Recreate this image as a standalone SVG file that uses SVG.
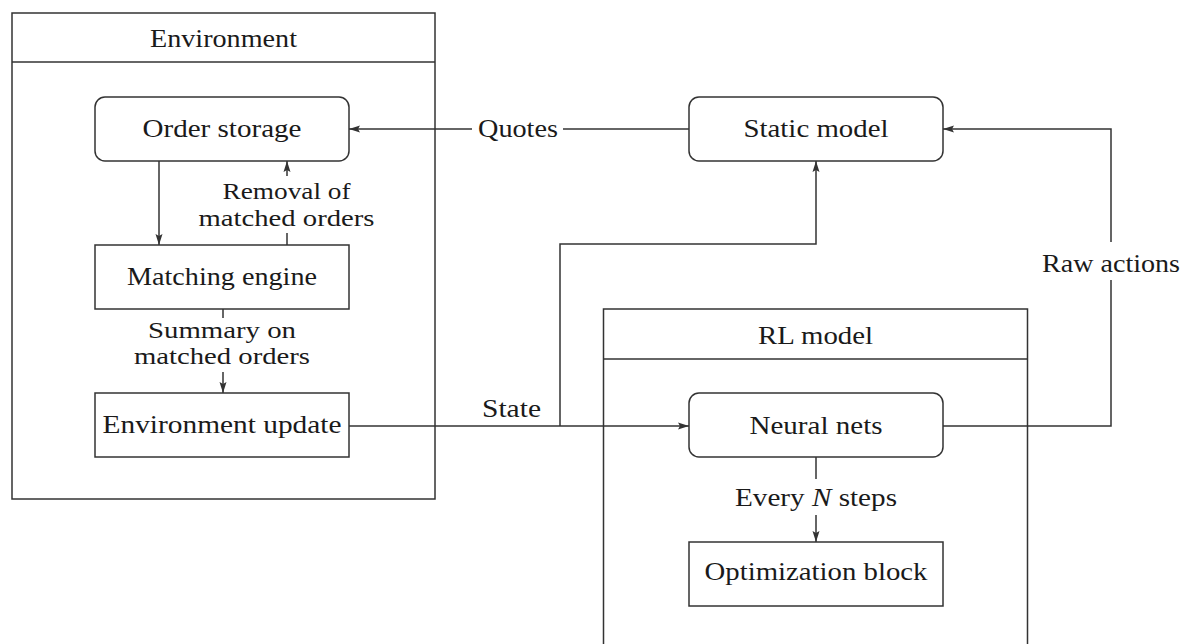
<svg xmlns="http://www.w3.org/2000/svg" width="1184" height="644" viewBox="0 0 1184 644">
<style>
.box{fill:none;stroke:#333;stroke-width:1.5}
.ln{fill:none;stroke:#333;stroke-width:1.5}
.t{font-family:'Liberation Serif','DejaVu Serif','Noto Serif',serif;font-size:26px;fill:#1a1a1a;text-anchor:middle}
.s{font-size:24px}
</style>
<defs>
<marker id="ah" markerWidth="12" markerHeight="8" refX="11" refY="4" orient="auto" markerUnits="userSpaceOnUse">
<path d="M0,0.5 L11,4 L0,7.5 L2,4 Z" fill="#333"/>
</marker>
</defs>
<rect width="1184" height="644" fill="#fff"/>

<g id="environment">
<rect class="box" x="12" y="13" width="423" height="486"/>
<line class="ln" x1="12" y1="62" x2="435" y2="62"/>
<text class="t" x="223.5" y="47" textLength="147" lengthAdjust="spacingAndGlyphs">Environment</text>
</g>

<g id="rl-model">
<path class="box" d="M603.5,660 V309 H1027.5 V660"/>
<line class="ln" x1="603.5" y1="359" x2="1027.5" y2="359"/>
<text class="t" x="815.5" y="344" textLength="115" lengthAdjust="spacingAndGlyphs">RL model</text>
</g>

<g id="order-storage">
<rect class="box" x="95" y="97" width="254" height="64" rx="10"/>
<text class="t" x="222" y="137" textLength="159" lengthAdjust="spacingAndGlyphs">Order storage</text>
</g>

<g id="matching-engine">
<rect class="box" x="95" y="245" width="254" height="64"/>
<text class="t" x="222" y="285" textLength="190" lengthAdjust="spacingAndGlyphs">Matching engine</text>
</g>

<g id="environment-update">
<rect class="box" x="95" y="393" width="254" height="64"/>
<text class="t" x="222" y="433" textLength="239" lengthAdjust="spacingAndGlyphs">Environment update</text>
</g>

<g id="static-model">
<rect class="box" x="689" y="97" width="254" height="64" rx="10"/>
<text class="t" x="816" y="137" textLength="145" lengthAdjust="spacingAndGlyphs">Static model</text>
</g>

<g id="neural-nets">
<rect class="box" x="689" y="393" width="254" height="64" rx="10"/>
<text class="t" x="816" y="434" textLength="133" lengthAdjust="spacingAndGlyphs">Neural nets</text>
</g>

<g id="optimization-block">
<rect class="box" x="689" y="542" width="254" height="64"/>
<text class="t" x="816" y="580" textLength="223" lengthAdjust="spacingAndGlyphs">Optimization block</text>
</g>

<g id="connectors">
<path class="ln" d="M689,129 H563"/>
<path class="ln" d="M472,129 H349" marker-end="url(#ah)"/>
<text class="t" x="518" y="137" textLength="80" lengthAdjust="spacingAndGlyphs">Quotes</text>

<path class="ln" d="M159,161 V245" marker-end="url(#ah)"/>

<path class="ln" d="M287,245 V233"/>
<path class="ln" d="M287,176 V161" marker-end="url(#ah)"/>
<text class="t s" x="286.5" y="199" textLength="128" lengthAdjust="spacingAndGlyphs">Removal of</text>
<text class="t s" x="286.5" y="226" textLength="176" lengthAdjust="spacingAndGlyphs">matched orders</text>

<path class="ln" d="M223,309 V318"/>
<path class="ln" d="M223,372 V393" marker-end="url(#ah)"/>
<text class="t s" x="222" y="338" textLength="148" lengthAdjust="spacingAndGlyphs">Summary on</text>
<text class="t s" x="222" y="364" textLength="176" lengthAdjust="spacingAndGlyphs">matched orders</text>

<path class="ln" d="M349,426 H689" marker-end="url(#ah)"/>
<path class="ln" d="M560,426 V244 H816 V161" marker-end="url(#ah)"/>
<text class="t" x="511.5" y="417" textLength="59" lengthAdjust="spacingAndGlyphs">State</text>

<path class="ln" d="M943,426 H1111 V280"/>
<path class="ln" d="M1111,242 V129 H943" marker-end="url(#ah)"/>
<text class="t" x="1111" y="272" textLength="138" lengthAdjust="spacingAndGlyphs">Raw actions</text>

<path class="ln" d="M816,457 V479"/>
<path class="ln" d="M816,515 V542" marker-end="url(#ah)"/>
<text class="t" x="816" y="506" textLength="162" lengthAdjust="spacingAndGlyphs">Every <tspan font-style="italic">N</tspan> steps</text>
</g>
</svg>
